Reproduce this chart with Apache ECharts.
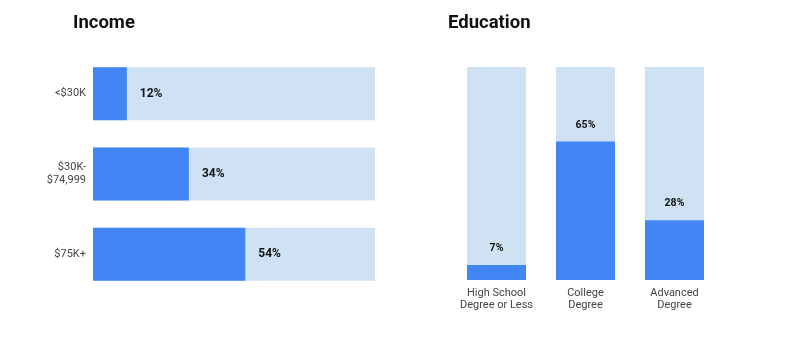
<!DOCTYPE html>
<html><head><meta charset="utf-8">
<script src="https://cdn.jsdelivr.net/npm/echarts@6/dist/echarts.min.js"></script>
<style>html,body{margin:0;padding:0;background:#fff}#c{width:785px;height:363px}</style>
</head><body><div id="c"></div>
<script>
const incomeCategories = ['<$30K', '$30K-\n$74,999', '$75K+'];
const incomeValues = [12, 34, 54];
const eduCategories = ['High School\nDegree or Less', 'College\nDegree', 'Advanced\nDegree'];
const eduValues = [7, 65, 28];

const BLUE = '#4285f4', LIGHT = '#cfe2f3', FONT = 'Roboto';
const chart = echarts.init(document.getElementById('c'));
chart.setOption({
  animation: false,
  textStyle: { fontFamily: FONT },
  title: [
    { text: 'Income', left: 73, top: 14, padding: 0, textStyle: { fontSize: 18.5, fontWeight: 'bold', color: '#111', fontFamily: FONT } },
    { text: 'Education', left: 448, top: 14, padding: 0, textStyle: { fontSize: 18.5, fontWeight: 'bold', color: '#111', fontFamily: FONT } }
  ],
  grid: [
    { left: 93, width: 282, top: 53.5, height: 241 },
    { left: 452, width: 267, top: 67, height: 213 }
  ],
  xAxis: [
    { gridIndex: 0, type: 'value', min: 0, max: 100, show: false },
    { gridIndex: 1, type: 'category', data: eduCategories, axisLine: { show: false }, axisTick: { show: false },
      axisLabel: { color: '#444', fontSize: 11, margin: 7, lineHeight: 12, interval: 0, fontFamily: FONT } }
  ],
  yAxis: [
    { gridIndex: 0, type: 'category', data: incomeCategories, inverse: true, axisLine: { show: false }, axisTick: { show: false },
      axisLabel: { color: '#444', fontSize: 11, margin: 7, lineHeight: 13, align: 'right', interval: 0, fontFamily: FONT } },
    { gridIndex: 1, type: 'value', min: 0, max: 100, show: false }
  ],
  series: [
    { type: 'bar', xAxisIndex: 0, yAxisIndex: 0, data: incomeValues, barWidth: 53,
      itemStyle: { color: BLUE }, showBackground: true, backgroundStyle: { color: LIGHT },
      label: { show: true, position: 'right', distance: 13, formatter: '{c}%', fontSize: 12, fontWeight: 'bold', color: '#111', fontFamily: FONT } },
    { type: 'bar', xAxisIndex: 1, yAxisIndex: 1, data: eduValues, barWidth: 59,
      itemStyle: { color: BLUE }, showBackground: true, backgroundStyle: { color: LIGHT },
      label: { show: true, position: 'top', distance: 11, formatter: '{c}%', fontSize: 10.5, fontWeight: 'bold', color: '#111', fontFamily: FONT } }
  ]
});
</script></body></html>
